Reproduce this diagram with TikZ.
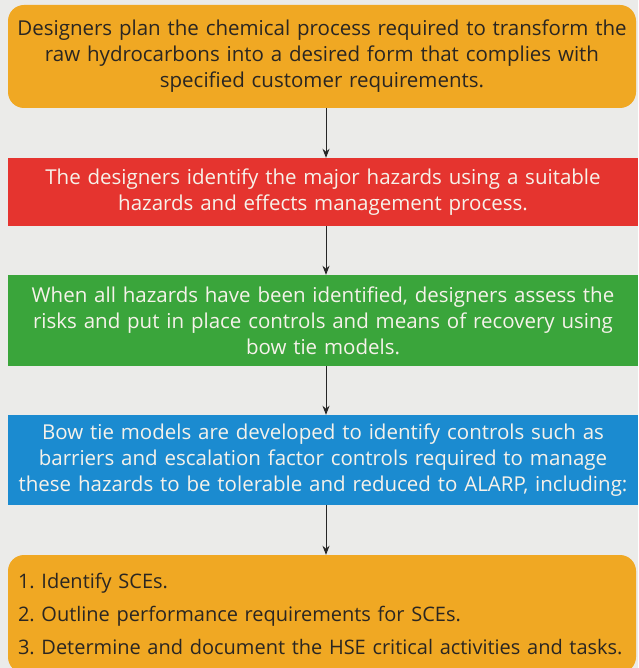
\documentclass[tikz,border=0pt]{standalone}
\usepackage{fontspec}
\setmainfont{Open Sans}
\frenchspacing
\usetikzlibrary{arrows.meta}
\definecolor{bg}{HTML}{EBEBE9}
\definecolor{orangebox}{HTML}{F0A823}
\definecolor{redbox}{HTML}{E5342F}
\definecolor{greenbox}{HTML}{3AA53B}
\definecolor{bluebox}{HTML}{1B8BD0}
\definecolor{darktext}{HTML}{2A2622}
\definecolor{lighttext}{HTML}{F6F2EA}
\begin{document}
\begin{tikzpicture}[x=1pt,y=-1pt,
  box/.style={inner sep=0pt, minimum width=630pt, align=center, text width=628pt,
    font=\fontsize{20.5}{26}\selectfont},
  rbox/.style={box, rounded corners=16pt},
  arr/.style={draw=black!85, line width=0.9pt, -{Stealth[length=9pt,width=7pt]}}]
\fill[bg] (0,0) rectangle (638,668);
\useasboundingbox (0,0) rectangle (638,668);
\node[rbox, fill=orangebox, text=darktext, minimum width=628pt, minimum height=103pt] (b1) at (322,56.5)
  {Designers plan the chemical process required to transform the\\ raw hydrocarbons into a desired form that complies with\\ specified customer requirements.};
\node[box, fill=redbox, text=lighttext, minimum height=68pt] (b2) at (323,192)
  {The designers identify the major hazards using a suitable\\ hazards and effects management process.};
\node[box, fill=greenbox, text=lighttext, minimum height=91pt] (b3) at (323,320.5)
  {When all hazards have been identified, designers assess the\\ risks and put in place controls and means of recovery using\\ bow tie models.};
\node[box, fill=bluebox, text=lighttext, minimum height=90pt] (b4) at (323,460)
  {Bow tie models are developed to identify controls such as\\ barriers and escalation factor controls required to manage\\ these hazards to be tolerable and reduced to ALARP, including:};
\begin{scope}
\clip (0,0) rectangle (638,668);
\node[rbox, fill=orangebox, text=darktext, minimum width=628pt, minimum height=118pt, align=left, text width=608pt,
  font=\fontsize{20}{33}\selectfont] (b5) at (322,614)
  {1. Identify SCEs.\\ 2. Outline performance requirements for SCEs.\\ 3. Determine and document the HSE critical activities and tasks.};
\end{scope}
\draw[arr] ([xshift=4pt]b1.south) -- ([xshift=3pt]b2.north);
\draw[arr] ([xshift=3pt]b2.south) -- ([xshift=3pt]b3.north);
\draw[arr] ([xshift=3pt]b3.south) -- ([xshift=3pt]b4.north);
\draw[arr] ([xshift=3pt]b4.south) -- ([xshift=4pt]b5.north);
\end{tikzpicture}
\end{document}
